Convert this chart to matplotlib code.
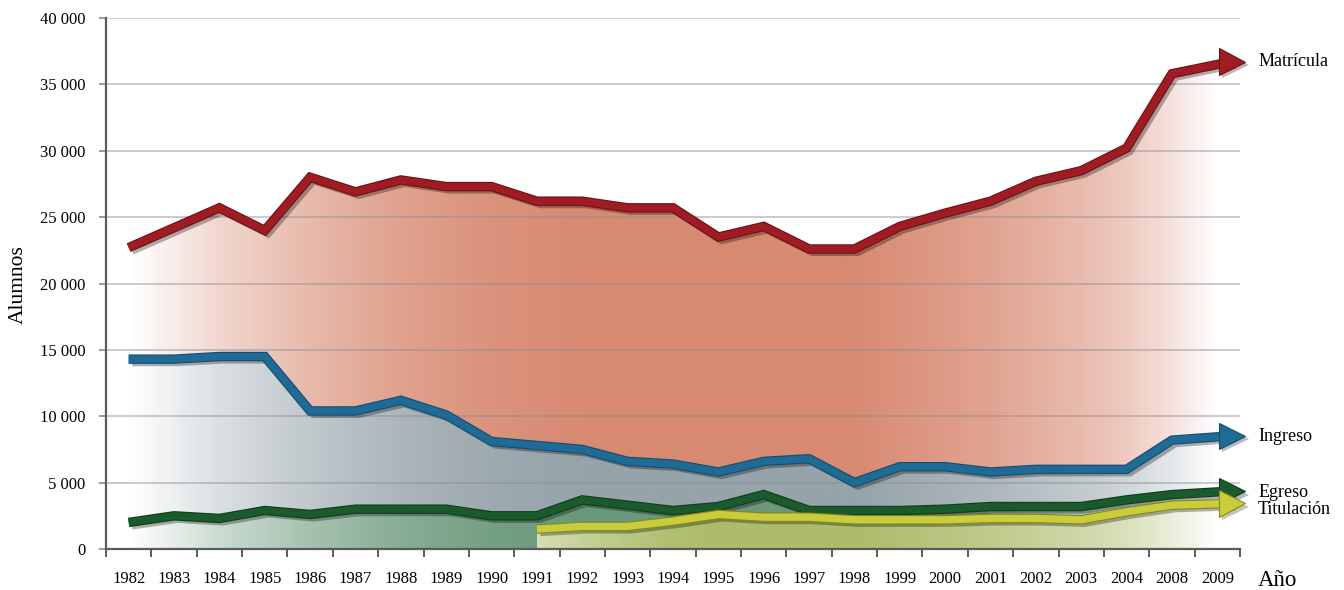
import numpy as np
import matplotlib
matplotlib.use('Agg')
import matplotlib.pyplot as plt
import matplotlib.patheffects as pe
from matplotlib.colors import to_rgb
from matplotlib.ticker import FuncFormatter, MultipleLocator, FixedLocator

plt.rcParams['font.family'] = ['Liberation Serif', 'DejaVu Serif']

years = ['1982', '1983', '1984', '1985', '1986', '1987', '1988', '1989', '1990',
         '1991', '1992', '1993', '1994', '1995', '1996', '1997', '1998', '1999',
         '2000', '2001', '2002', '2003', '2004', '2008', '2009']

matricula = [22700, 24200, 25700, 24000, 28000, 26900, 27800, 27300, 27300,
             26200, 26200, 25700, 25700, 23500, 24300, 22600, 22600, 24300,
             25300, 26200, 27700, 28500, 30200, 35800, 36500]
ingreso = [14300, 14300, 14500, 14500, 10400, 10400, 11200, 10100, 8100,
           7800, 7500, 6600, 6400, 5800, 6600, 6800, 5000, 6200,
           6200, 5800, 6000, 6000, 6000, 8200, 8450]
egreso = [2000, 2500, 2300, 2900, 2600, 3000, 3000, 3000, 2500,
          2500, 3700, 3300, 2900, 3200, 4100, 2900, 2900, 2900,
          3000, 3200, 3200, 3200, 3700, 4100, 4300]
# titulacion starts in 1991
titulacion_start = years.index('1991')
titulacion = [1500, 1700, 1700, 2100, 2600, 2400, 2400, 2200, 2200,
              2200, 2300, 2300, 2200, 2800, 3300, 3400]

names = ['Matrícula', 'Ingreso', 'Egreso', 'Titulación']

# style: (fill colour, line colour, outline colour)
styles = [('#d88a72', '#a01c24', '#6e0f16'),
          ('#96a3aa', '#1f6b96', '#154d6e'),
          ('#6a987a', '#1a5a2c', '#0f3d1c'),
          ('#acbc6a', '#c9cd3c', '#85871f')]
label_dy = [0, -60, -100, -480]


def grad_fill(ax, x, y, color, kx, kt, z):
    poly = ax.fill(np.r_[x, x[::-1]], np.r_[y, np.zeros(len(y))],
                   facecolor='none', edgecolor='none')[0]
    xs = np.linspace(x[0], x[-1], 600)
    t = np.interp(xs, kx, kt)
    rgb = np.array(to_rgb(color))
    img = 1 - t[:, None] * (1 - rgb[None, :])
    im = ax.imshow(img[None, :, :], extent=[x[0], x[-1], 0, max(y)],
                   aspect='auto', origin='lower', zorder=z,
                   interpolation='bilinear')
    im.set_clip_path(poly)


fig = plt.figure(figsize=(13.44, 5.90), dpi=100)
ax = fig.add_axes([106 / 1344, 41 / 590, 1134 / 1344, 531 / 590])

xall = np.arange(len(years), dtype=float)
series = [(xall, np.array(matricula, float)),
          (xall, np.array(ingreso, float)),
          (xall, np.array(egreso, float)),
          (xall[titulacion_start:], np.array(titulacion, float))]

# gradient profiles (position along x -> strength)
full_kx = [0, 2, 4, 6, 8, 10, 16, 19, 21, 22, 23, 24]
full_kt = [0.0, 0.35, 0.6, 0.8, 0.93, 1.0, 1.0, 0.78, 0.58, 0.45, 0.25, 0.0]
tit_kx = [9, 10, 11, 12, 13, 16, 19, 21, 22, 23, 24]
tit_kt = [0.5, 0.68, 0.84, 0.95, 1.0, 1.0, 0.78, 0.58, 0.45, 0.25, 0.0]

for i, ((x, y), (fc, lc, oc)) in enumerate(zip(series, styles)):
    if i == 3:
        grad_fill(ax, x, y, fc, tit_kx, tit_kt, 1 + i * 0.1)
    else:
        grad_fill(ax, x, y, fc, full_kx, full_kt, 1 + i * 0.1)

for i, ((x, y), (fc, lc, oc)) in enumerate(zip(series, styles)):
    xa = x[-1] + 0.32
    ya = y[-1] + (y[-1] - y[-2]) * 0.3
    shadow = pe.SimpleLineShadow(offset=(2.5, -2.5), shadow_color='k', alpha=0.3)
    ax.plot(np.r_[x, xa], np.r_[y, ya], color=lc, lw=5.2, solid_joinstyle='miter',
            solid_capstyle='butt', zorder=5 + i, clip_on=False,
            path_effects=[shadow, pe.Stroke(linewidth=6.8, foreground=oc), pe.Normal()])
    ax.plot([xa], [ya], marker='>', ms=19, color=lc, mec=oc, mew=0.8,
            zorder=5 + i, clip_on=False,
            path_effects=[pe.SimplePatchShadow(offset=(2.5, -2.5), alpha=0.3), pe.Normal()])
    ax.text(24.9, ya + label_dy[i], names[i], ha='left', va='center',
            fontsize=13, clip_on=False)

ax.set_xlim(-0.5, len(years) - 0.5)
ax.set_ylim(0, 40000)

ax.set_axisbelow(False)
ax.yaxis.set_major_locator(MultipleLocator(5000))
ax.yaxis.set_major_formatter(FuncFormatter(lambda v, p: f'{v:,.0f}'.replace(',', ' ')))
ax.yaxis.grid(True, color='#8c8c96', alpha=0.45, lw=1.4)

ax.set_xticks(xall)
ax.set_xticklabels(years)
ax.xaxis.set_minor_locator(FixedLocator(np.arange(len(years) + 1) - 0.5))
ax.tick_params(axis='x', which='major', length=0, pad=16, labelsize=12)
ax.tick_params(axis='x', which='minor', length=6, width=1.4, color='#5a5a5a')
ax.tick_params(axis='y', which='major', length=5, width=1.4, color='#9a9aa0',
               pad=10, labelsize=12)

for s in ['top', 'right']:
    ax.spines[s].set_visible(False)
for s in ['left', 'bottom']:
    ax.spines[s].set_color('#5a5a5a')
    ax.spines[s].set_linewidth(1.6)
    ax.spines[s].set_zorder(9)

fig.text(18 / 1344, 1 - 285 / 590, 'Alumnos', rotation=90, ha='center',
         va='center', fontsize=15.5)
fig.text(1258 / 1344, 1 - 580 / 590, 'Año', ha='left', va='center', fontsize=16.5)

fig.savefig('out.png', dpi=100)
